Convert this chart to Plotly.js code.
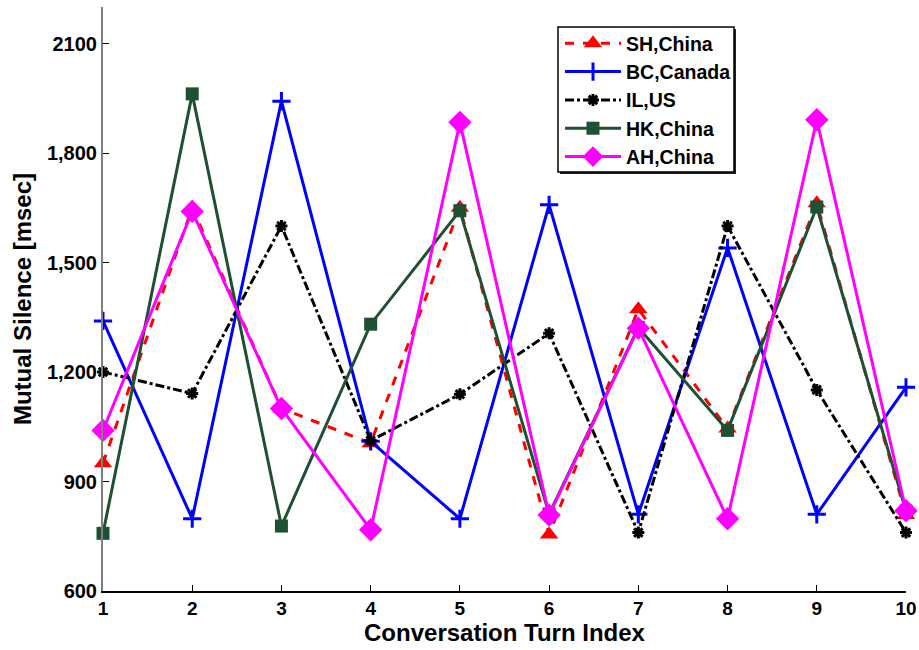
<!DOCTYPE html>
<html>
<head>
<meta charset="utf-8">
<script src="https://cdn.plot.ly/plotly-3.0.1.min.js"></script>
<style>html,body{margin:0;padding:0;background:#fff;}#chart{width:919px;height:650px;}</style>
</head>
<body>
<div id="chart"></div>
<script>
const turns = [1, 2, 3, 4, 5, 6, 7, 8, 9, 10];
const shChina  = [950, 1650, 1100, 1005, 1650, 755, 1372, 1045, 1662, 808];
const bcCanada = [1340, 798, 1942, 1010, 798, 1658, 810, 1540, 810, 1158];
const ilUS     = [1200, 1141, 1600, 1012, 1139, 1306, 760, 1600, 1151, 760];
const hkChina  = [758, 1962, 778, 1331, 1642, 811, 1322, 1040, 1652, 819];
const ahChina  = [1040, 1640, 1100, 768, 1884, 808, 1320, 798, 1891, 820];
const seriesNames = ["SH,China", "BC,Canada", "IL,US", "HK,China", "AH,China"];
const yTickVals = [600, 900, 1200, 1500, 1800, 2100];
const yTickText = ["600", "900", "1,200", "1,500", "1,800", "2100"];

const traces = [
  {x: turns, y: shChina, name: seriesNames[0], mode: 'lines+markers', cliponaxis: false,
   line: {color: '#ff0000', width: 3, dash: 'dash'},
   marker: {symbol: 'triangle-up', size: 16, color: '#ff0000'}},
  {x: turns, y: bcCanada, name: seriesNames[1], mode: 'lines+markers', cliponaxis: false,
   line: {color: '#0000ff', width: 3},
   marker: {symbol: 'cross-thin-open', size: 13, line: {color: '#0000ff', width: 3}, color: '#0000ff'}},
  {x: turns, y: ilUS, name: seriesNames[2], mode: 'lines+markers', cliponaxis: false,
   line: {color: '#000000', width: 3, dash: 'dashdot'},
   marker: {symbol: 'asterisk-open', size: 10, line: {color: '#000000', width: 3}, color: '#000000'}},
  {x: turns, y: hkChina, name: seriesNames[3], mode: 'lines+markers', cliponaxis: false,
   line: {color: '#1e5033', width: 3},
   marker: {symbol: 'square', size: 13, color: '#1e5033'}},
  {x: turns, y: ahChina, name: seriesNames[4], mode: 'lines+markers', cliponaxis: false,
   line: {color: '#ff00ff', width: 3},
   marker: {symbol: 'diamond', size: 18, color: '#ff00ff'}}
];

// legend frame (paper coordinates of the plot area: 803 x 584 px)
const PW = 803, PH = 584;
const bx0 = (558 - 103) / PW, bx1 = (734 - 103) / PW;
const by1 = (591 - 27) / PH, by0 = (591 - 172) / PH;

const layout = {
  width: 919, height: 650,
  margin: {l: 103, r: 13, t: 7, b: 59, pad: 0},
  paper_bgcolor: '#ffffff', plot_bgcolor: '#ffffff',
  showlegend: true,
  font: {family: 'Liberation Sans, Arial, sans-serif', color: '#000'},
  xaxis: {
    range: [1, 10], tickvals: turns, ticks: 'inside', ticklen: 6, tickcolor: '#000',
    showgrid: false, zeroline: false, showline: true, linecolor: '#000', linewidth: 1.5,
    tickfont: {family: 'Liberation Sans Narrow, Liberation Sans, Arial', size: 19, weight: 'bold'},
    title: {text: 'Conversation Turn Index', standoff: 2,
            font: {family: 'Liberation Sans Narrow, Liberation Sans, Arial', size: 24, weight: 'bold'}}
  },
  yaxis: {
    range: [600, 2200], tickvals: yTickVals, ticktext: yTickText, ticks: 'inside', ticklen: 6, tickcolor: '#000',
    showgrid: false, zeroline: false, showline: true, linecolor: '#808080', linewidth: 2,
    tickfont: {family: 'Liberation Sans, Arial', size: 20, weight: 'bold'},
    title: {text: 'Mutual Silence [msec]', standoff: 9,
            font: {family: 'Liberation Sans, Arial', size: 24, weight: 'bold'}}
  },
  shapes: [
    {type: 'rect', xref: 'paper', yref: 'paper', layer: 'above',
     x0: bx0 + 2 / PW, x1: bx1 + 2 / PW, y0: by0 - 2 / PH, y1: by1 - 2 / PH,
     fillcolor: '#222', line: {width: 0}},
    {type: 'rect', xref: 'paper', yref: 'paper', layer: 'above',
     x0: bx0, x1: bx1, y0: by0, y1: by1,
     fillcolor: '#ffffff', line: {color: '#000', width: 1.5}}
  ],
  legend: {
    x: (560 - 103) / PW, y: (591 - 24) / PH, xanchor: 'left', yanchor: 'top',
    bgcolor: 'rgba(0,0,0,0)', borderwidth: 0,
    font: {family: 'Liberation Sans, Arial', size: 19.5, weight: 'bold'},
    itemwidth: 56, tracegroupgap: 0
  }
};

Plotly.newPlot('chart', traces, layout, {displayModeBar: false, staticPlot: true});
</script>
</body>
</html>
